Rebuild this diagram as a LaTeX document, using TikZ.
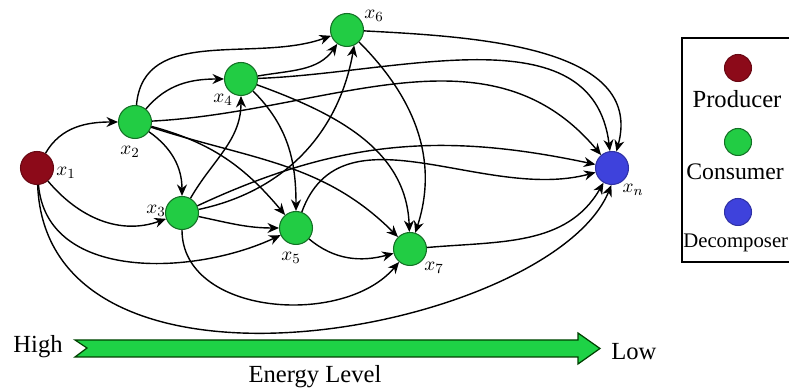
\documentclass[tikz,border=0pt]{standalone}
\usepackage{fontspec}
\setmainfont{Liberation Serif}
\usetikzlibrary{arrows.meta, positioning}

\definecolor{prodred}{RGB}{140,10,25}
\definecolor{consgreen}{RGB}{34,204,68}
\definecolor{decblue}{RGB}{62,66,220}
\definecolor{barfill}{RGB}{30,210,70}

\begin{document}
\begin{tikzpicture}[
  x=0.02cm, y=0.02cm,
  species/.style={circle, draw, line width=0.6pt, minimum size=0.66cm, inner sep=0pt},
  producer/.style={species, fill=prodred, draw=prodred!75!black},
  consumer/.style={species, fill=consgreen, draw=consgreen!55!black},
  decomposer/.style={species, fill=decblue, draw=decblue!75!black},
  legdot/.style={minimum size=0.54cm},
  lbl/.style={font=\fontsize{11}{12}\selectfont, inner sep=0pt},
  bigtext/.style={font=\fontsize{14}{16}\selectfont, inner sep=0pt},
  arrow/.style={line width=0.8pt, -{Stealth[length=2.3mm, width=2mm]}}
]
  \useasboundingbox (0,0) rectangle (789,388);
  \clip (0,0) rectangle (789,388);

  % food web
  \node[producer] (x1) at (37,220) {};
  \node[consumer] (x2) at (135,266) {};
  \node[consumer] (x3) at (182,175) {};
  \node[consumer] (x4) at (241,309) {};
  \node[consumer] (x5) at (296,160) {};
  \node[consumer] (x6) at (347,358) {};
  \node[consumer] (x7) at (410,139) {};
  \node[decomposer] (xn) at (612,220) {};

  \node[lbl] (l1) at (66,215) {$x_1$};
  \node[lbl] (l2) at (130,236) {$x_2$};
  \node[lbl] (l3) at (156,177) {$x_3$};
  \node[lbl] (l4) at (223,288) {$x_4$};
  \node[lbl] (l5) at (291,130) {$x_5$};
  \node[lbl] (l6) at (374,372) {$x_6$};
  \node[lbl] (l7) at (434,120) {$x_7$};
  \node[lbl] (ln) at (633,198) {$x_n$};

  \draw[arrow] (x1) to[out=60, in=180] (x2);
  \draw[arrow] (x1) to[out=-50, in=200] (x3);
  \draw[arrow] (x1) to[out=-85, in=205] (x5);
  \draw[arrow] (x1) .. controls +(10,-260) and +(-60,-145) .. (xn.-92);
  \draw[arrow] (x2) to[out=85, in=200] (x6);
  \draw[arrow] (x2) to[out=50, in=180] (x4);
  \draw[arrow] (x2) to[out=3, in=130] (xn);
  \draw[arrow] (x2) to[out=-35, in=90] (x3);
  \draw[arrow] (x2) to[out=-15, in=130] (x5);
  \draw[arrow] (x2) to[out=-18, in=135] (x7);
  \draw[arrow] (x4) to[out=10, in=-125] (x6);
  \draw[arrow] (x4) to[out=2, in=97] (xn);
  \draw[arrow] (x4) to[out=-45, in=90] (x5);
  \draw[arrow] (x4) to[out=-20, in=92] (x7);
  \draw[arrow] (x6) to[out=-3, in=75] (xn);
  \draw[arrow] (x6) to[out=-45, in=72] (x7);
  \draw[arrow] (x3) to[out=60, in=-90] (x4);
  \draw[arrow] (x3) to[out=12, in=-100] (x6.-65);
  \draw[arrow] (x3) to[out=25, in=168] (xn);
  \draw[arrow] (x3) to[out=-12, in=180] (x5);
  \draw[arrow] (x3) to[out=-90, in=-130] (x7);
  \draw[arrow] (x5) to[out=70, in=195] (xn);
  \draw[arrow] (x5) to[out=-40, in=195] (x7);
  \draw[arrow] (x7) to[out=5, in=-120] (xn);

  % legend
  \draw[line width=0.6pt] (682,350) rectangle (820,126);
  \node[producer, legdot] (legprod) at (738,320) {};
  \node[bigtext, anchor=base] (txtprod) at (737,280) {Producer};
  \node[consumer, legdot] (legcons) at (738,246) {};
  \node[font=\fontsize{13.5}{15}\selectfont, inner sep=0pt, anchor=base west] (txtcons) at (686,208) {Consumer};
  \node[decomposer, legdot] (legdec) at (738,176) {};
  \node[font=\fontsize{11.8}{14}\selectfont, inner sep=0pt, anchor=base west] (txtdec) at (683,140) {Decomposer};

  % energy level
  \draw[line width=0.7pt, draw=green!25!black, fill=barfill]
    (75,48) -- (87,40) -- (75,31) -- (578,31) -- (578,24) -- (600,39.5)
    -- (578,55) -- (578,48) -- cycle;
  \node[bigtext, anchor=base east] (high) at (63,35) {High};
  \node[bigtext, anchor=base west] (low) at (611,28) {Low};
  \node[bigtext, anchor=base] (energy) at (315,5) {Energy Level};
\end{tikzpicture}
\end{document}
